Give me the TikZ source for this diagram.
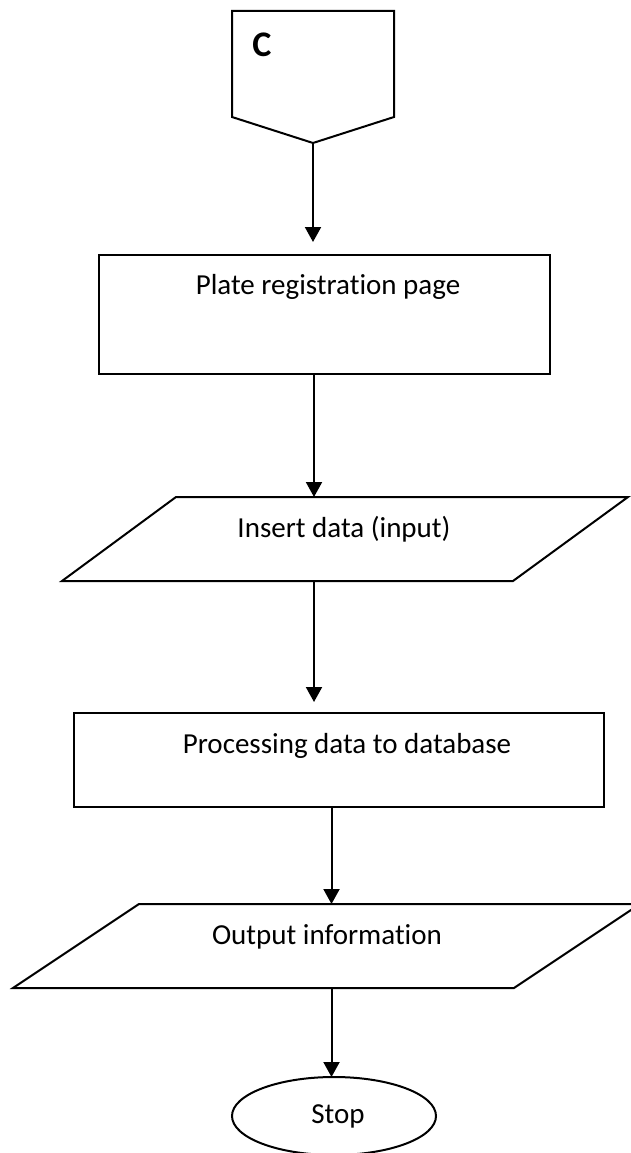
\documentclass[tikz,border=0pt]{standalone}
\usepackage{fontspec}
\setmainfont{Carlito}[Ligatures={NoCommon}]
\usetikzlibrary{arrows.meta,shapes.geometric}
\tikzset{
  shapeline/.style={draw=black, line width=2pt},
  boxnode/.style={shapeline, rectangle, inner sep=0pt, outer sep=0pt},
  ovalnode/.style={shapeline, ellipse, inner sep=0pt, outer sep=0pt},
  lbl/.style={anchor=base, inner sep=0pt, font=\fontsize{29}{34}\selectfont},
  arr/.style={line width=2pt, -{Triangle[width=16pt,length=15pt]}},
}
\begin{document}
\begin{tikzpicture}[x=1pt, y=-1pt]
\useasboundingbox (0,0) rectangle (631,1153);
% off-page connector (pentagon)
\draw[shapeline, line join=miter] (232,11) -- (394,11) -- (394,117) -- (313,143) -- (232,117) -- cycle;
\coordinate (cpt) at (313,143);
\node[lbl, font=\fontsize{36}{40}\selectfont\bfseries] (ctext) at (262,57) {C};
% plate registration page
\node[boxnode, minimum width=451pt, minimum height=119pt] (plate) at (324.5,314.5) {};
\node[lbl] (platet) at (328,294) {Plate registration page};
% insert data parallelogram
\draw[shapeline] (176,497) -- (628,497) -- (513,581) -- (62,581) -- cycle;
\coordinate (instop) at (314,497);
\coordinate (insbot) at (314,581);
\node[lbl] (inst) at (344,537) {Insert data (input)};
% processing box
\node[boxnode, minimum width=530pt, minimum height=94pt] (proc) at (339,760) {};
\node[lbl] (proct) at (347,753) {Processing data to database};
% output parallelogram
\draw[shapeline] (139,904) -- (640,904) -- (514,988) -- (13,988) -- cycle;
\coordinate (outtop) at (331.5,904);
\coordinate (outbot) at (331.5,988);
\node[lbl] (outt) at (327,944) {Output information};
% stop
\node[ovalnode, minimum width=204pt, minimum height=78pt] (stop) at (334,1116) {};
\node[lbl] (stopt) at (338,1123) {Stop};
% connectors
\draw[arr, shorten >=13pt] (cpt) -- (cpt |- plate.north);
\draw[arr] (plate.south -| instop) -- (instop);
\draw[arr, shorten >=11pt] (insbot) -- (insbot |- proc.north);
\draw[arr] (proc.south -| outtop) -- (outtop);
\draw[arr] (outbot) -- (outbot |- stop.north);
\end{tikzpicture}
\end{document}
